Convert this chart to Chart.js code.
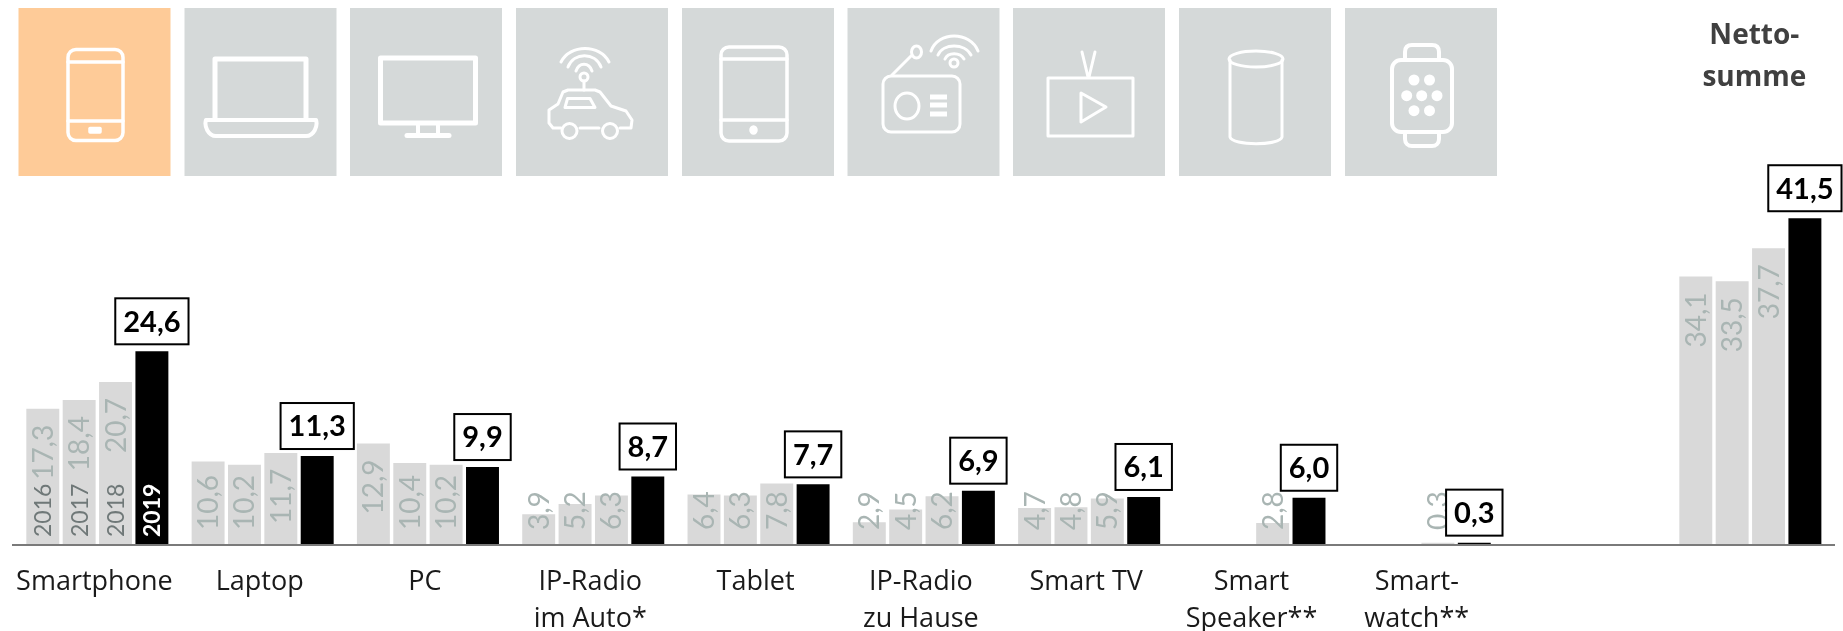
<!DOCTYPE html>
<html><head><meta charset="utf-8">
<style>
html,body{margin:0;padding:0;background:#fff;overflow:hidden}
#wrap{position:relative;width:1843px;height:631px}
svg{position:absolute;left:0;top:0}
canvas{position:absolute;left:0;top:0}
</style>
<script src="https://cdn.jsdelivr.net/npm/chart.js@4"></script>
</head><body>
<div id="wrap">
<svg width="1843" height="631" viewBox="0 0 1843 631">
  <g fill="#d5d9d9">
    <rect x="18.5" y="8" width="152" height="168" fill="#fecb98"/>
    <rect x="184.5" y="8" width="152" height="168"/>
    <rect x="350" y="8" width="152" height="168"/>
    <rect x="516" y="8" width="152" height="168"/>
    <rect x="682" y="8" width="152" height="168"/>
    <rect x="847.5" y="8" width="152" height="168"/>
    <rect x="1013" y="8" width="152" height="168"/>
    <rect x="1179" y="8" width="152" height="168"/>
    <rect x="1345" y="8" width="152" height="168"/>
  </g>
  <g fill="none" stroke="#fff" stroke-width="3.5" stroke-linejoin="round" stroke-linecap="round">
    <!-- phone -->
    <rect x="68" y="49.5" width="55" height="91" rx="8"/>
    <path d="M68 62H123M68 121H123"/>
    <rect x="90" y="128.5" width="10" height="3.5" fill="#fff"/>
    <!-- laptop -->
    <path d="M215 118V59H306V118" stroke-width="5"/>
    <path d="M206 120H316C318 126 314 136 306 136H216C208 136 204 126 206 120Z" stroke-width="4"/>
    <!-- pc -->
    <rect x="380.5" y="58" width="95" height="65" stroke-width="5"/>
    <path d="M418 125V135M438 125V135" stroke-width="4"/>
    <path d="M407 135.500H449" stroke-width="5"/>
    <!-- car -->
    <g stroke-width="3">
      <path d="M561 62C570 44 600 44 609 62M568 67C574 52 595 52 601 67M576 71C579 62 589 62 592 71"/>
      <circle cx="584" cy="77" r="4"/><path d="M584 81V90"/>
      <path d="M561 128H553L549 123V110L558 104L563 92L568 90H595L600 92L611 106L626 111L632 120L631 128H620M599 128H580"/>
      <circle cx="569.500" cy="131" r="7.500"/><circle cx="610" cy="131" r="7.500"/>
      <path d="M565 107.500L567.500 98.500H590L595 107.500Z"/>
    </g>
    <!-- tablet -->
    <rect x="721" y="47" width="66" height="94" rx="8"/>
    <path d="M721 59H787M721 120H787"/>
    <ellipse cx="753.500" cy="130" rx="2.500" ry="3" fill="#fff"/>
    <!-- radio -->
    <g stroke-width="3">
      <rect x="883" y="76" width="77" height="56" rx="8"/>
      <ellipse cx="907" cy="106" rx="12" ry="13"/>
      <path d="M892 75L911 56"/>
      <ellipse cx="916.500" cy="52" rx="5" ry="6"/>
      <circle cx="954" cy="63" r="4"/>
      <path d="M945 59C948 52 960 52 964 59M938 55C943 43 965 43 971 55M931 51C938 31 970 31 978 51"/>
    </g>
    <path d="M930 97H947M930 105H947M930 114H947" stroke-width="5" stroke-linecap="butt"/>
    <!-- tv -->
    <g stroke-width="3">
      <rect x="1048" y="78" width="85" height="58"/>
      <path d="M1088 77L1082 52M1089 77L1095 52"/>
      <path d="M1081 93L1106 107L1081 122Z"/>
    </g>
    <!-- speaker -->
    <g stroke-width="3">
      <ellipse cx="1256" cy="59" rx="27" ry="8"/>
      <path d="M1230 60V137C1232 146 1280 146 1282 137V60"/>
    </g>
    <!-- watch -->
    <g stroke-width="4">
      <rect x="1392" y="60" width="60" height="72" rx="9"/>
      <path d="M1405 59V52C1405 47 1408 45 1412 45H1432C1436 45 1439 47 1439 52V59"/>
      <path d="M1405 133V139C1405 143 1408 146 1412 146H1432C1436 146 1439 143 1439 139V133"/>
    </g>
  </g>
  <g fill="#fff">
    <circle cx="1414" cy="80" r="5.500"/><circle cx="1429.500" cy="80" r="5.500"/>
    <circle cx="1406.700" cy="95.700" r="5.500"/><circle cx="1421.700" cy="95.700" r="5.500"/><circle cx="1437" cy="95.700" r="5.500"/>
    <circle cx="1414" cy="110.700" r="5.500"/><circle cx="1429.500" cy="110.700" r="5.500"/>
  </g>
</svg>
<canvas id="c" width="1843" height="631"></canvas>
</div>
<script>
const categories = [
  'Smartphone','Laptop','PC',['IP-Radio','im Auto*'],'Tablet',['IP-Radio','zu Hause'],
  'Smart TV',['Smart','Speaker**'],['Smart-','watch**'],'',''
];
const years = ['2016','2017','2018','2019'];
const v2016 = [17.3,10.6,12.9,3.9,6.4,2.9,4.7,null,null,null,34.1];
const v2017 = [18.4,10.2,10.4,5.2,6.3,4.5,4.8,null,null,null,33.5];
const v2018 = [20.7,11.7,10.2,6.3,7.8,6.2,5.9,2.8,0.3,null,37.7];
const v2019 = [24.6,11.3,9.9,8.7,7.7,6.9,6.1,6.0,0.3,null,41.5];
const nettoTitle = ['Netto-','summe'];

const GRAY='#d9d9d9', BLACK='#000000';
const fmt = v => v.toFixed(1).replace('.',',');

const annotate = {
  id:'annotate',
  afterDatasetsDraw(chart){
    const {ctx,scales:{x,y}} = chart;
    const base = y.getPixelForValue(0);
    ctx.save();
    ctx.strokeStyle='#7a7a7a'; ctx.lineWidth=2;
    ctx.beginPath(); ctx.moveTo(12,base); ctx.lineTo(1835,base); ctx.stroke();

    chart.data.datasets.forEach((ds,di)=>{
      const meta = chart.getDatasetMeta(di);
      ds.data.forEach((v,i)=>{
        if(v==null) return;
        const el = meta.data[i];
        if(di<3){
          ctx.save();
          ctx.font='400 28px Lato';
          ctx.fillStyle='#a9b5b3';
          const w = ctx.measureText(fmt(v)).width;
          const bottom = Math.min(el.y+16+w, base-15);
          ctx.translate(el.x+1,bottom); ctx.rotate(-Math.PI/2);
          ctx.textAlign='left'; ctx.textBaseline='middle';
          ctx.fillText(fmt(v),0,0);
          ctx.restore();
        } else {
          const t = fmt(v);
          ctx.font='700 29px Lato';
          const w = ctx.measureText(t).width+16, h=46;
          const bx = el.x-w/2, by = el.y-7-h;
          ctx.fillStyle='#fff'; ctx.strokeStyle='#000'; ctx.lineWidth=2;
          ctx.fillRect(bx,by,w,h); ctx.strokeRect(bx,by,w,h);
          ctx.fillStyle='#000'; ctx.textAlign='center'; ctx.textBaseline='middle';
          ctx.fillText(t,el.x,by+h/2+1);
        }
      });
      const el0 = meta.data[0];
      ctx.save();
      ctx.font=(di===3?'700':'400')+' 23px Lato';
      ctx.fillStyle=di===3?'#ffffff':'#6f7878';
      ctx.translate(el0.x+1,base-8); ctx.rotate(-Math.PI/2);
      ctx.textAlign='left'; ctx.textBaseline='middle';
      ctx.fillText(ds.label,0,0);
      ctx.restore();
    });

    const last = x.getPixelForValue(10);
    ctx.font='700 28px "Open Sans"';
    ctx.fillStyle='#404040'; ctx.textAlign='center'; ctx.textBaseline='middle';
    ctx.fillText(nettoTitle[0],last+4,36);
    ctx.fillText(nettoTitle[1],last+4,78);
    ctx.restore();
  }
};

new Chart(document.getElementById('c'),{
  type:'bar',
  data:{
    labels:categories,
    datasets:[v2016,v2017,v2018,v2019].map((d,i)=>({
      label:years[i], data:d, backgroundColor:i===3?BLACK:GRAY, borderWidth:0,
      barPercentage:0.906, categoryPercentage:0.88
    }))
  },
  options:{
    responsive:false, animation:false,
    layout:{padding:{left:14.7,right:10,top:8,bottom:0}},
    plugins:{legend:{display:false},tooltip:{enabled:false}},
    scales:{
      x:{
        grid:{display:false}, border:{display:false},
        afterFit(s){ s.height=86; },
        ticks:{
          autoSkip:false, maxRotation:0, minRotation:0, padding:10, labelOffset:-3,
          color:'#1a1a1a',
          font:{family:'"Open Sans"',size:27,lineHeight:1.4}
        }
      },
      y:{display:false,min:0,max:68.2}
    }
  },
  plugins:[annotate]
});
</script>
</body></html>
